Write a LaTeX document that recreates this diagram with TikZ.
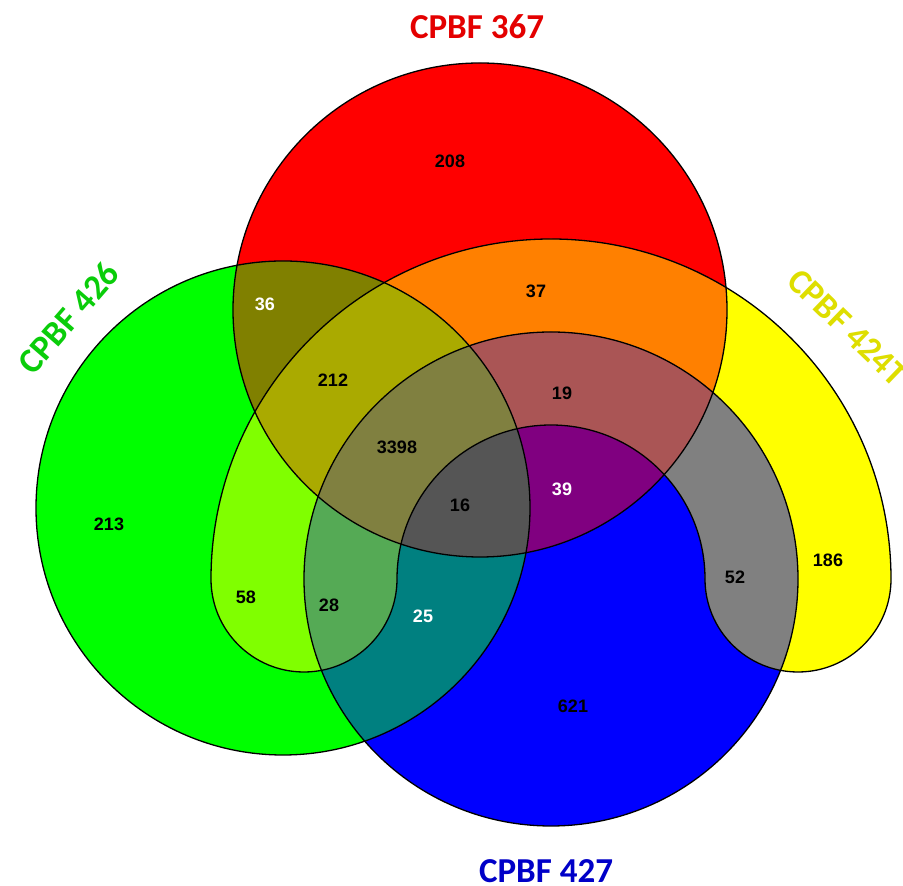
\documentclass[tikz,border=0pt]{standalone}
\usepackage{fontspec}
\setmainfont{Liberation Sans}
\newfontfamily\titlefont{Carlito}
\definecolor{cR}{HTML}{FF0000}
\definecolor{cG}{HTML}{00FF00}
\definecolor{cB}{HTML}{0000FF}
\definecolor{cY}{HTML}{FFFF00}
\definecolor{cRG}{HTML}{808000}
\definecolor{cRY}{HTML}{FF8000}
\definecolor{cRB}{HTML}{800080}
\definecolor{cGY}{HTML}{80FF00}
\definecolor{cGB}{HTML}{008080}
\definecolor{cYB}{HTML}{808080}
\definecolor{cRGY}{HTML}{AAAA00}
\definecolor{cRGB}{HTML}{555555}
\definecolor{cRYB}{HTML}{AA5555}
\definecolor{cGYB}{HTML}{55AA55}
\definecolor{cRGBY}{HTML}{808040}
\definecolor{tR}{RGB}{228,0,0}
\definecolor{tG}{RGB}{10,205,10}
\definecolor{tB}{RGB}{0,0,200}
\definecolor{tY}{RGB}{222,222,0}
\tikzset{
  outl/.style={draw=black, line width=1.3pt},
  num/.style={font=\fontsize{18}{20}\selectfont\bfseries, text=black, inner sep=0pt},
  wnum/.style={num, text=white},
  settitle/.style={font=\titlefont\fontsize{35}{40}\selectfont\bfseries, inner sep=0pt},
}
\def\Rp{(480,576) circle[radius=247pt]}
\def\Gp{(283,378) circle[radius=247pt]}
\def\Bp{(551,307) circle[radius=247pt]}
\def\Yp{(891,307) arc[start angle=0,end angle=180,radius=340pt] arc[start angle=180,end angle=360,radius=93pt] arc[start angle=180,end angle=0,radius=154pt] arc[start angle=180,end angle=360,radius=93pt] -- cycle}
\begin{document}
\begin{tikzpicture}[x=1pt,y=1pt]
\fill[white] (0,0) rectangle (903,886);
\useasboundingbox (0,0) rectangle (903,886);
% single sets
\fill[cR] \Rp;
\fill[cG] \Gp;
\fill[cB] \Bp;
\fill[cY] \Yp;
% pairs
\begin{scope}\clip \Rp; \fill[cRG] \Gp; \end{scope}
\begin{scope}\clip \Rp; \fill[cRY] \Yp; \end{scope}
\begin{scope}\clip \Rp; \fill[cRB] \Bp; \end{scope}
\begin{scope}\clip \Gp; \fill[cGY] \Yp; \end{scope}
\begin{scope}\clip \Gp; \fill[cGB] \Bp; \end{scope}
\begin{scope}\clip \Yp; \fill[cYB] \Bp; \end{scope}
% triples
\begin{scope}\clip \Rp; \clip \Gp; \fill[cRGY] \Yp; \end{scope}
\begin{scope}\clip \Rp; \clip \Gp; \fill[cRGB] \Bp; \end{scope}
\begin{scope}\clip \Rp; \clip \Yp; \fill[cRYB] \Bp; \end{scope}
\begin{scope}\clip \Gp; \clip \Yp; \fill[cGYB] \Bp; \end{scope}
% all four
\begin{scope}\clip \Rp; \clip \Gp; \clip \Yp; \fill[cRGBY] \Bp; \end{scope}
% outlines
\draw[outl] \Rp;
\draw[outl] \Gp;
\draw[outl] \Bp;
\draw[outl] \Yp;
% region counts
\node[num]  (n208)  at (450,725) {208};
\node[wnum] (n36)   at (265,582) {36};
\node[num]  (n37)   at (536,595) {37};
\node[num]  (n212)  at (333,506) {212};
\node[num]  (n19)   at (562,493) {19};
\node[num]  (n3398) at (397,439) {3398};
\node[num]  (n16)   at (460,381) {16};
\node[wnum] (n39)   at (562,397) {39};
\node[num]  (n213)  at (109,362) {213};
\node[num]  (n58)   at (246,289) {58};
\node[num]  (n28)   at (329,281) {28};
\node[wnum] (n25)   at (423,270) {25};
\node[num]  (n52)   at (735,309) {52};
\node[num]  (n186)  at (828,326) {186};
\node[num]  (n621)  at (573,180) {621};
% set titles
\node[settitle, text=tR] (t367) at (477,859) {CPBF 367};
\node[settitle, text=tB] (t427) at (546,15) {CPBF 427};
\node[settitle, text=tG, rotate=49] (t426) at (68.5,568) {CPBF 426};
\node[settitle, text=tY, rotate=-44] (t424) at (847.5,558.5) {CPBF 424T};
\end{tikzpicture}
\end{document}
